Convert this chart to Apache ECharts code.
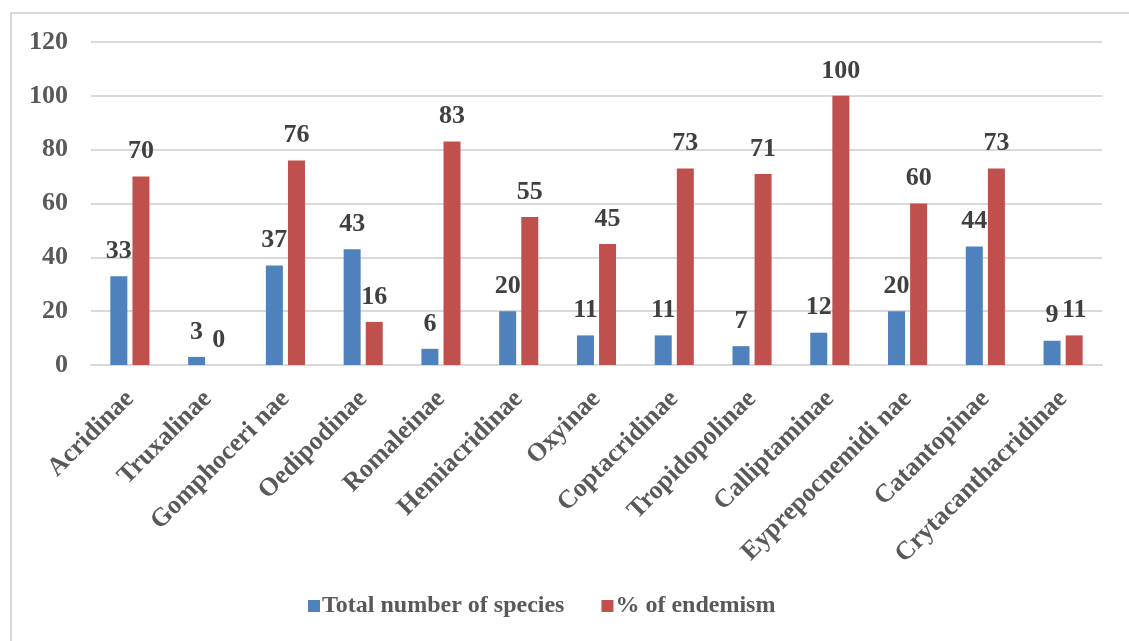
<!DOCTYPE html>
<html>
<head>
<meta charset="utf-8">
<script src="https://cdn.jsdelivr.net/npm/echarts@6/dist/echarts.min.js"></script>
<style>
html,body{margin:0;padding:0;background:#fff;}
#chart{width:1129px;height:641px;}
</style>
</head>
<body>
<div id="chart"></div>
<script>
const categories = ['Acridinae','Truxalinae','Gomphoceri nae','Oedipodinae','Romaleinae','Hemiacridinae','Oxyinae','Coptacridinae','Tropidopolinae','Calliptaminae','Eyprepocnemidi nae','Catantopinae','Crytacanthacridinae'];
const totalSpecies = [33,3,37,43,6,20,11,11,7,12,20,44,9];
const endemism = [70,0,76,16,83,55,45,73,71,100,60,73,11];
const yTicks = [0,20,40,60,80,100,120];

const font = '"Liberation Serif","Times New Roman",serif';
const chart = echarts.init(document.getElementById('chart'));
chart.setOption({
  animation:false,
  graphic:[{type:'rect',shape:{x:11,y:13,width:1130,height:640},style:{fill:'none',stroke:'#d9d9d9',lineWidth:2},silent:true}],
  grid:{left:91,right:27,top:42,bottom:276},
  legend:{
    bottom:18,left:303,itemWidth:12,itemHeight:12,itemGap:37,icon:'rect',
    textStyle:{fontFamily:font,fontWeight:'bold',fontSize:24,color:'#595959',padding:[0,0,0,-3]},
    data:['Total number of species','% of endemism']
  },
  xAxis:{
    type:'category',data:categories,
    axisLine:{lineStyle:{color:'#d9d9d9',width:2}},
    axisTick:{show:false},
    axisLabel:{interval:0,rotate:45,fontFamily:font,fontWeight:'bold',fontSize:26,color:'#595959',margin:30}
  },
  yAxis:{
    type:'value',min:0,max:120,interval:20,
    axisLine:{show:false},axisTick:{show:false},
    splitLine:{lineStyle:{color:'#d9d9d9',width:2}},
    axisLabel:{fontFamily:font,fontWeight:'bold',fontSize:26,color:'#595959',margin:23,
      formatter:v=>yTicks.includes(v)?String(v):''}
  },
  series:[
    {name:'Total number of species',type:'bar',data:totalSpecies,barWidth:17,barGap:'30%',
     itemStyle:{color:'#4F81BD'},
     label:{show:true,position:'top',distance:12,fontFamily:font,fontWeight:'bold',fontSize:26,color:'#404040'}},
    {name:'% of endemism',type:'bar',data:endemism,barWidth:17,
     itemStyle:{color:'#C0504D'},
     label:{show:true,position:'top',distance:12,fontFamily:font,fontWeight:'bold',fontSize:26,color:'#404040'}}
  ]
});
</script>
</body>
</html>
